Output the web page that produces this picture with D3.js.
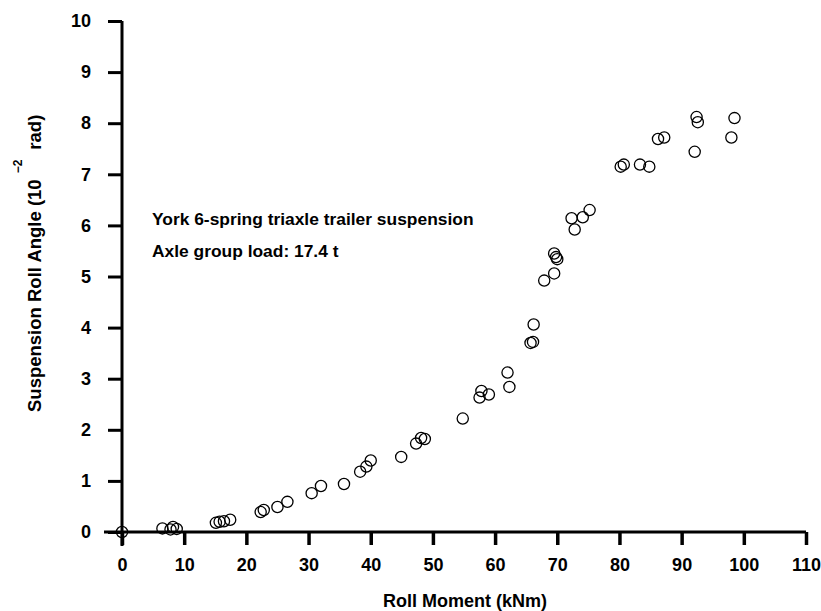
<!DOCTYPE html>
<html>
<head>
<meta charset="utf-8">
<script src="https://cdn.jsdelivr.net/npm/d3@7"></script>
<style>
  body { margin: 0; background: #fff; }
  text { font-family: "Liberation Sans", Arial, sans-serif; font-weight: bold; fill: #000; }
</style>
</head>
<body>
<div id="chart"></div>
<script>
const w = 821;
const h = 611;

// roll moment (kNm) and suspension roll angle (10^-2 rad)
const rollMoment = [
  0, 6.5, 7.8, 8.2, 8.8, 15.1, 15.7, 16.4, 17.4, 22.3, 22.8, 25.0, 26.6,
  30.5, 32.0, 35.7, 38.3, 39.3, 40.0, 44.9, 47.3, 48.1, 48.7, 54.8, 57.5,
  57.8, 59.0, 62.0, 62.3, 65.7, 66.1, 66.2, 67.9, 69.5, 69.5, 69.8, 70.0,
  72.3, 72.8, 74.1, 75.2, 80.2, 80.7, 83.3, 84.8, 86.2, 87.2, 92.1, 92.4,
  92.6, 98.0, 98.5
];
const rollAngle = [
  0, 0.07, 0.05, 0.1, 0.06, 0.18, 0.2, 0.21, 0.24, 0.39, 0.43, 0.49, 0.59,
  0.76, 0.9, 0.94, 1.18, 1.28, 1.4, 1.47, 1.73, 1.84, 1.82, 2.22, 2.63,
  2.76, 2.69, 3.12, 2.84, 3.7, 3.72, 4.06, 4.92, 5.06, 5.45, 5.38, 5.34,
  6.14, 5.92, 6.16, 6.3, 7.15, 7.19, 7.19, 7.15, 7.69, 7.72, 7.44, 8.12,
  8.02, 7.72, 8.1
];

const xTicks = [0, 10, 20, 30, 40, 50, 60, 70, 80, 90, 100, 110];
const yTicks = [0, 1, 2, 3, 4, 5, 6, 7, 8, 9, 10];

const xTitle = "Roll Moment (kNm)";
const yTitle = "Suspension Roll Angle (10";
const yTitleExp = "\u22122";
const yTitleUnit = "rad)";
const notes = ["York 6-spring triaxle trailer suspension", "Axle group load: 17.4 t"];

const svg = d3
  .select("#chart")
  .append("svg")
  .attr("width", w)
  .attr("height", h);

//****SCALES****
const xScale = d3.scaleLinear().domain([0, 110]).range([122, 806]);
const yScale = d3.scaleLinear().domain([0, 10]).range([532, 21]);

//****AXES****
const xAxis = d3
  .axisBottom(xScale)
  .tickValues(xTicks)
  .tickSize(13)
  .tickSizeOuter(0)
  .tickPadding(13)
  .tickFormat(d3.format("d"));

const yAxis = d3
  .axisLeft(yScale)
  .tickValues(yTicks)
  .tickSize(14)
  .tickSizeOuter(0)
  .tickPadding(17)
  .tickFormat(d3.format("d"));

const gx = svg
  .append("g")
  .attr("id", "x-axis")
  .attr("transform", `translate(0, ${yScale(0)})`)
  .call(xAxis);

const gy = svg
  .append("g")
  .attr("id", "y-axis")
  .attr("transform", `translate(${xScale(0)}, 0)`)
  .call(yAxis);

[gx, gy].forEach(function (g) {
  g.select(".domain").remove();
  g.selectAll("text").style("font-size", "18px");
});
gx.selectAll(".tick line").attr("stroke", "#000").attr("stroke-width", 3.5);
gy.selectAll(".tick line").attr("stroke", "#000").attr("stroke-width", 3);

// axis lines run a little past the origin, like the original drawing
svg
  .append("line")
  .attr("x1", xScale(0))
  .attr("x2", xScale(0))
  .attr("y1", yScale(10))
  .attr("y2", yScale(0) + 14)
  .attr("stroke", "#000")
  .attr("stroke-width", 3);

svg
  .append("line")
  .attr("x1", xScale(0) - 18)
  .attr("x2", xScale(110))
  .attr("y1", yScale(0))
  .attr("y2", yScale(0))
  .attr("stroke", "#000")
  .attr("stroke-width", 3);

//****AXIS TITLES****
svg
  .append("text")
  .attr("x", 465)
  .attr("y", 607)
  .attr("text-anchor", "middle")
  .style("font-size", "18px")
  .text(xTitle);

const yLabel = svg
  .append("text")
  .attr("transform", "translate(41, 412) rotate(-90)")
  .style("font-size", "18.5px");

yLabel.append("tspan").text(yTitle);
yLabel
  .append("tspan")
  .attr("dx", 6)
  .attr("dy", -19)
  .style("font-size", "12px")
  .text(yTitleExp);
yLabel
  .append("tspan")
  .attr("dx", 10)
  .attr("dy", 19)
  .text(yTitleUnit);

//****NOTES****
svg
  .selectAll(".note")
  .data(notes)
  .enter()
  .append("text")
  .attr("class", "note")
  .attr("x", 152)
  .attr("y", function (d, i) {
    return 225 + i * 32;
  })
  .style("font-size", "17.4px")
  .text(function (d) {
    return d;
  });

//****POINTS****
svg
  .append("g")
  .attr("id", "points")
  .selectAll("circle")
  .data(rollMoment)
  .enter()
  .append("circle")
  .attr("cx", function (d) {
    return xScale(d);
  })
  .attr("cy", function (d, i) {
    return yScale(rollAngle[i]);
  })
  .attr("r", 5.6)
  .attr("fill", "none")
  .attr("stroke", "#000")
  .attr("stroke-width", 1.3);
</script>
</body>
</html>
